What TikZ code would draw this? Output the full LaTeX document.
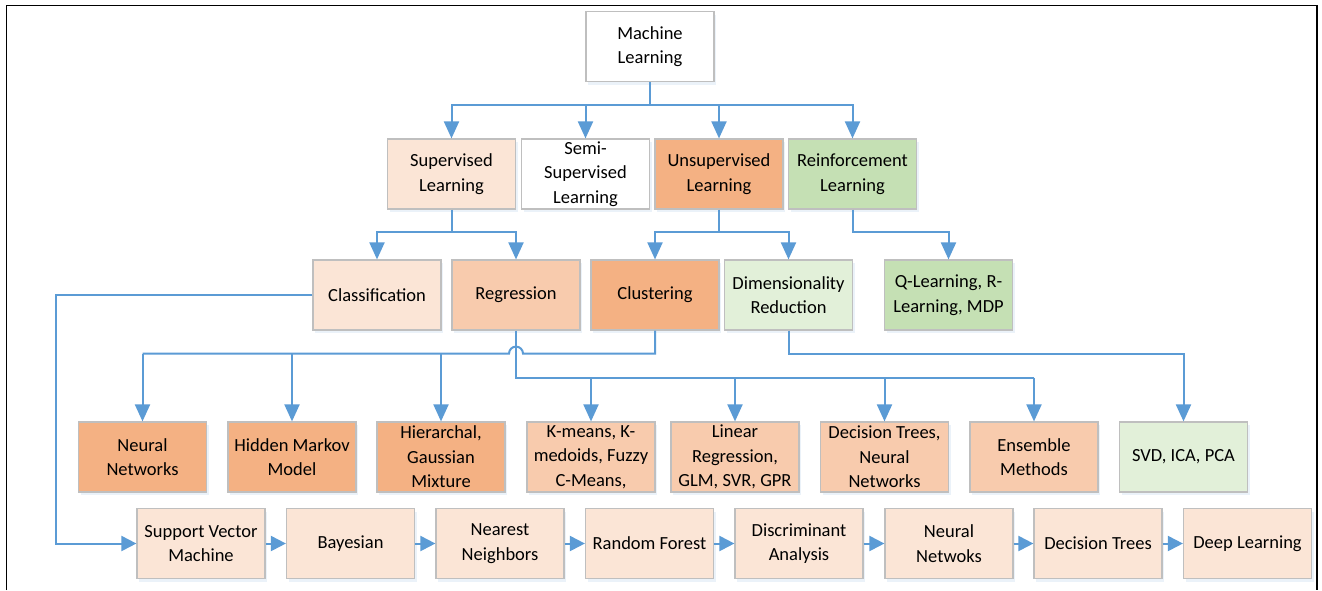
\documentclass[tikz,border=0pt]{standalone}
\usepackage{fontspec}
\setmainfont{Carlito}
\usetikzlibrary{arrows.meta,calc,shadows}
\definecolor{cline}{HTML}{5B9BD5}
\definecolor{cpeachl}{HTML}{FBE5D6}
\definecolor{cpeach}{HTML}{F8CBAD}
\definecolor{corange}{HTML}{F4B183}
\definecolor{cgreenl}{HTML}{E2F0D9}
\definecolor{cgreen}{HTML}{C5E0B4}
\definecolor{cborder}{HTML}{BFBFBF}
\tikzset{
  box/.style={draw=cborder, line width=1.2pt, minimum width=128pt, minimum height=70pt,
    align=center, inner sep=0pt, font=\fontsize{18.5}{24.5}\selectfont,
    drop shadow={shadow xshift=2pt, shadow yshift=-3pt, fill=cline, opacity=0.12}},
  conn/.style={draw=cline, line width=2pt},
  arr/.style={conn, -{Triangle[width=15pt,length=17pt]}},
  harr/.style={conn, -{Triangle[width=15pt,length=15pt]}},
}
\begin{document}
\begin{tikzpicture}[x=1pt,y=-1pt]
\useasboundingbox (0,0) rectangle (1322,590);
\fill[white] (0,0) rectangle (1322,590);
\draw[line width=1.8pt] (6.5,590) -- (6.5,5.5) -- (1317,5.5) -- (1317,590);

% level 1
\node[box, fill=white] (ml) at (650,46.5) {Machine\\Learning};
% level 2
\node[box, fill=cpeachl] (sup) at (451.5,174) {Supervised\\Learning};
\node[box, fill=white] (semi) at (585.5,174) {Semi-\\Supervised\\Learning};
\node[box, fill=corange] (unsup) at (719,174) {Unsupervised\\Learning};
\node[box, fill=cgreen] (reinf) at (852.5,174) {Reinforcement\\Learning};
% level 3
\node[box, fill=cpeachl] (class) at (377,295) {Classification};
\node[box, fill=cpeach] (regr) at (516,295) {Regression};
\node[box, fill=corange] (clust) at (655,295) {Clustering};
\node[box, fill=cgreenl] (dimred) at (788.5,295) {Dimensionality\\Reduction};
\node[box, fill=cgreen] (ql) at (948.5,295) {Q-Learning, R-\\Learning, MDP};
% level 4
\node[box, fill=corange] (nn) at (142.5,457) {Neural\\Networks};
\node[box, fill=corange] (hmm) at (292,457) {Hidden Markov\\Model};
\node[box, fill=corange] (hier) at (441,457) {Hierarchal,\\Gaussian\\Mixture};
\node[box, fill=cpeach] (km) at (591,457) {K-means, K-\\medoids, Fuzzy\\C-Means,};
\node[box, fill=cpeach] (lr) at (735,457) {Linear\\Regression,\\GLM, SVR, GPR};
\node[box, fill=cpeach] (dt) at (884.5,457) {Decision Trees,\\Neural\\Networks};
\node[box, fill=cpeach] (ens) at (1034,457) {Ensemble\\Methods};
\node[box, fill=cgreenl] (svd) at (1183.5,457) {SVD, ICA, PCA};
% bottom row
\node[box, fill=cpeachl] (svm) at (201,543.5) {Support Vector\\Machine};
\node[box, fill=cpeachl] (bayes) at (350.5,543.5) {Bayesian};
\node[box, fill=cpeachl] (nnb) at (500,543.5) {Nearest\\Neighbors};
\node[box, fill=cpeachl] (rf) at (649.5,543.5) {Random Forest};
\node[box, fill=cpeachl] (da) at (799,543.5) {Discriminant\\Analysis};
\node[box, fill=cpeachl] (nnw) at (949,543.5) {Neural\\Netwoks};
\node[box, fill=cpeachl] (dtb) at (1098,543.5) {Decision Trees};
\node[box, fill=cpeachl] (dl) at (1247.5,543.5) {Deep Learning};

% ML -> level 2
\draw[conn] (ml.south) -- ++(0,23) coordinate (mlj);
\draw[arr] (mlj) -| (sup.north);
\draw[arr] (mlj) -| (semi.north);
\draw[arr] (mlj) -| (unsup.north);
\draw[arr] (mlj) -| (reinf.north);
% Supervised
\draw[conn] (sup.south) -- ++(0,22) coordinate (sj);
\draw[arr] (sj) -| (class.north);
\draw[arr] (sj) -| (regr.north);
% Unsupervised
\draw[conn] (unsup.south) -- ++(0,22) coordinate (uj);
\draw[arr] (uj) -| (clust.north);
\draw[arr] (uj) -| (dimred.north);
% Reinforcement
\draw[arr] (reinf.south) -- ++(0,22) -| (ql.north);
% Regression
\draw[conn] (regr.south) -- ++(0,47) coordinate (rj) -- (ens.north |- rj);
\draw[arr] (km.north |- rj) -- (km.north);
\draw[arr] (lr.north |- rj) -- (lr.north);
\draw[arr] (dt.north |- rj) -- (dt.north);
\draw[arr] (ens.north |- rj) -- (ens.north);
% Clustering (with hop over Regression line)
\draw[conn] (clust.south) -- ++(0,23) coordinate (cj)
  -- ($(regr.south |- cj)+(7,0)$) arc[start angle=0, end angle=180, radius=7pt]
  -- (nn.north |- cj);
\draw[arr] (nn.north |- cj) -- (nn.north);
\draw[arr] (hmm.north |- cj) -- (hmm.north);
\draw[arr] (hier.north |- cj) -- (hier.north);
% Dimensionality reduction
\draw[arr] (dimred.south) -- ++(0,23) -| (svd.north);
% Classification -> bottom chain
\draw[harr] (class.west) -- ++(-256,0) |- (svm.west);
\draw[harr] (svm.east) -- (bayes.west);
\draw[harr] (bayes.east) -- (nnb.west);
\draw[harr] (nnb.east) -- (rf.west);
\draw[harr] (rf.east) -- (da.west);
\draw[harr] (da.east) -- (nnw.west);
\draw[harr] (nnw.east) -- (dtb.west);
\draw[harr] (dtb.east) -- (dl.west);
\end{tikzpicture}
\end{document}
